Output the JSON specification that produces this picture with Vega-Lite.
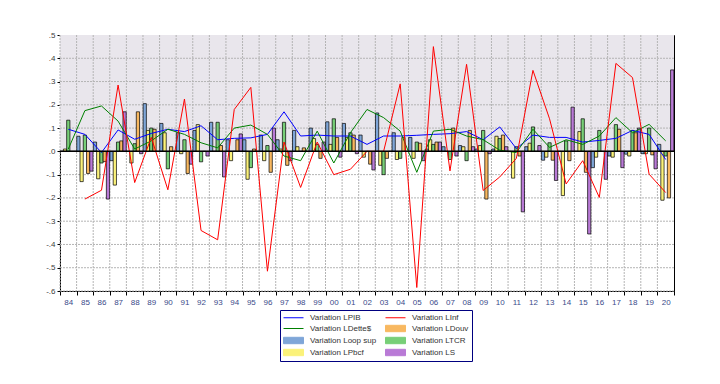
{
"$schema": "https://vega.github.io/schema/vega-lite/v6.json",
"width": 614, "height": 256,
"autosize": {"type": "none"},
"padding": {"left": 60, "top": 35, "right": 46, "bottom": 93},
"background": "white",
"config": {"view": {"stroke": "black", "strokeWidth": 1}, "font": "Liberation Sans"},
"datasets": {
"bars": [
{"yr":"84","Loop":0,"Pbcf":0.01,"TCR":0.134,"Douv":0,"S":0},
{"yr":"85","Loop":0.065,"Pbcf":-0.13,"TCR":0.07,"Douv":-0.095,"S":-0.085},
{"yr":"86","Loop":0.04,"Pbcf":-0.118,"TCR":-0.05,"Douv":-0.044,"S":-0.205},
{"yr":"87","Loop":-0.04,"Pbcf":-0.145,"TCR":0.04,"Douv":0.045,"S":0.17},
{"yr":"88","Loop":0,"Pbcf":-0.05,"TCR":0.033,"Douv":0.17,"S":-0.01},
{"yr":"89","Loop":0.205,"Pbcf":0.09,"TCR":0.1,"Douv":0.095,"S":0},
{"yr":"90","Loop":0.12,"Pbcf":0.08,"TCR":-0.075,"Douv":0.02,"S":0},
{"yr":"91","Loop":0.08,"Pbcf":-0.01,"TCR":0.05,"Douv":-0.095,"S":-0.055},
{"yr":"92","Loop":0.09,"Pbcf":0.115,"TCR":-0.045,"Douv":0,"S":-0.02},
{"yr":"93","Loop":0.125,"Pbcf":0,"TCR":0.125,"Douv":0.025,"S":-0.11},
{"yr":"94","Loop":0.05,"Pbcf":-0.04,"TCR":0,"Douv":0.05,"S":0.075},
{"yr":"95","Loop":0.05,"Pbcf":-0.12,"TCR":-0.07,"Douv":0.01,"S":0},
{"yr":"96","Loop":0.07,"Pbcf":-0.04,"TCR":0.025,"Douv":-0.09,"S":0.1},
{"yr":"97","Loop":0.05,"Pbcf":0.01,"TCR":0.125,"Douv":-0.06,"S":-0.04},
{"yr":"98","Loop":0.09,"Pbcf":0.02,"TCR":0,"Douv":0.015,"S":0},
{"yr":"99","Loop":0.1,"Pbcf":0.055,"TCR":0.03,"Douv":-0.03,"S":0.04},
{"yr":"00","Loop":0.127,"Pbcf":0.03,"TCR":0.14,"Douv":0.06,"S":-0.025},
{"yr":"01","Loop":0.12,"Pbcf":0.06,"TCR":0.08,"Douv":0.07,"S":-0.01},
{"yr":"02","Loop":0.07,"Pbcf":-0.025,"TCR":0,"Douv":-0.055,"S":-0.08},
{"yr":"03","Loop":0.165,"Pbcf":-0.06,"TCR":-0.1,"Douv":-0.03,"S":0},
{"yr":"04","Loop":0.08,"Pbcf":-0.035,"TCR":-0.03,"Douv":0.06,"S":0},
{"yr":"05","Loop":0.06,"Pbcf":-0.03,"TCR":0.04,"Douv":0.035,"S":-0.04},
{"yr":"06","Loop":0.01,"Pbcf":0.05,"TCR":0.03,"Douv":0.04,"S":0.04},
{"yr":"07","Loop":0.02,"Pbcf":0,"TCR":-0.035,"Douv":0.1,"S":-0.02},
{"yr":"08","Loop":0.025,"Pbcf":0.02,"TCR":-0.04,"Douv":0.09,"S":0.02},
{"yr":"09","Loop":0.01,"Pbcf":0.025,"TCR":0.09,"Douv":-0.205,"S":-0.01},
{"yr":"10","Loop":0.01,"Pbcf":0.065,"TCR":0.055,"Douv":0.07,"S":0.02},
{"yr":"11","Loop":0,"Pbcf":-0.115,"TCR":0.02,"Douv":-0.02,"S":-0.26},
{"yr":"12","Loop":0.02,"Pbcf":0.035,"TCR":0.105,"Douv":0,"S":0.025},
{"yr":"13","Loop":-0.038,"Pbcf":-0.025,"TCR":0.037,"Douv":-0.038,"S":-0.125},
{"yr":"14","Loop":0,"Pbcf":-0.19,"TCR":0.045,"Douv":-0.04,"S":0.19},
{"yr":"15","Loop":0,"Pbcf":0.085,"TCR":0.14,"Douv":-0.09,"S":-0.355},
{"yr":"16","Loop":-0.07,"Pbcf":-0.025,"TCR":0.09,"Douv":0,"S":-0.12},
{"yr":"17","Loop":-0.02,"Pbcf":-0.025,"TCR":0.115,"Douv":0.095,"S":-0.07},
{"yr":"18","Loop":-0.012,"Pbcf":-0.02,"TCR":0.09,"Douv":0.08,"S":0.1},
{"yr":"19","Loop":-0.01,"Pbcf":-0.01,"TCR":0.1,"Douv":-0.015,"S":-0.075},
{"yr":"20","Loop":0.03,"Pbcf":-0.21,"TCR":-0.02,"Douv":-0.2,"S":0.35}
],
"lines": [
{"yr":"84","PIB":0.095,"Dette":0.01,"Inf":null},
{"yr":"85","PIB":0.073,"Dette":0.175,"Inf":-0.205},
{"yr":"86","PIB":-0.005,"Dette":0.195,"Inf":-0.167},
{"yr":"87","PIB":0.092,"Dette":0.13,"Inf":0.285},
{"yr":"88","PIB":0.052,"Dette":0.01,"Inf":-0.134},
{"yr":"89","PIB":0.077,"Dette":0.045,"Inf":0.06},
{"yr":"90","PIB":0.095,"Dette":0.095,"Inf":-0.165},
{"yr":"91","PIB":0.085,"Dette":0.073,"Inf":0.225},
{"yr":"92","PIB":0.11,"Dette":0.037,"Inf":-0.34},
{"yr":"93","PIB":0.05,"Dette":0.015,"Inf":-0.38},
{"yr":"94","PIB":0.056,"Dette":0.1,"Inf":0.18},
{"yr":"95","PIB":0.058,"Dette":0.113,"Inf":0.275},
{"yr":"96","PIB":0.073,"Dette":0.073,"Inf":-0.515},
{"yr":"97","PIB":0.17,"Dette":-0.02,"Inf":0.04},
{"yr":"98","PIB":0.066,"Dette":-0.04,"Inf":-0.155},
{"yr":"99","PIB":0.07,"Dette":0.087,"Inf":0.04},
{"yr":"00","PIB":0.066,"Dette":-0.05,"Inf":-0.1},
{"yr":"01","PIB":0.066,"Dette":0.08,"Inf":-0.077},
{"yr":"02","PIB":0.03,"Dette":0.18,"Inf":0},
{"yr":"03","PIB":0.066,"Dette":0.145,"Inf":0},
{"yr":"04","PIB":0.066,"Dette":0.087,"Inf":0.29},
{"yr":"05","PIB":0.069,"Dette":-0.09,"Inf":-0.585},
{"yr":"06","PIB":0.073,"Dette":0.087,"Inf":0.45},
{"yr":"07","PIB":0.076,"Dette":0.095,"Inf":-0.084},
{"yr":"08","PIB":0.085,"Dette":0.066,"Inf":0.374},
{"yr":"09","PIB":0.05,"Dette":0.05,"Inf":-0.168},
{"yr":"10","PIB":0.105,"Dette":0.005,"Inf":-0.11},
{"yr":"11","PIB":0.012,"Dette":-0.005,"Inf":-0.03},
{"yr":"12","PIB":0.07,"Dette":0.095,"Inf":0.348},
{"yr":"13","PIB":0.06,"Dette":0.017,"Inf":0.14},
{"yr":"14","PIB":0.06,"Dette":0.05,"Inf":-0.14},
{"yr":"15","PIB":0.04,"Dette":0.03,"Inf":-0.04},
{"yr":"16","PIB":0.047,"Dette":0.066,"Inf":-0.198},
{"yr":"17","PIB":0.056,"Dette":0.145,"Inf":0.378},
{"yr":"18","PIB":0.09,"Dette":0.08,"Inf":0.317},
{"yr":"19","PIB":0.073,"Dette":0.116,"Inf":-0.098},
{"yr":"20","PIB":-0.035,"Dette":0.045,"Inf":-0.177}
]
},
"layer": [
{
"data": {"values": [{}]},
"mark": {"type": "rect", "color": "#e9e6ec"},
"encoding": {
"y": {"datum": 0.5, "type": "quantitative", "scale": {"domain": [-0.6, 0.5], "nice": false, "zero": false},
"axis": {"title": null, "values": [-0.6,-0.5,-0.4,-0.3,-0.2,-0.1,0,0.1,0.2,0.3,0.4,0.5], "labelOverlap": false, "labelExpr": "(datum.value < -0.001 ? '-' : '') + '.' + round(abs(datum.value) * 10)", "grid": false, "domainColor": "black", "tickColor": "black", "tickSize": 3, "labelFontSize": 8, "labelColor": "#404040", "labelPadding": 2}},
"y2": {"datum": 0}
}
},
{
"data": {"name": "bars"},
"mark": {"type": "rule", "color": "#b4b4b4", "strokeWidth": 1, "strokeDash": [2,1]},
"encoding": {
"x": {"field": "yr", "type": "nominal", "bandPosition": 0,
"axis": {"title": null, "tickBand": "extent", "labelAngle": 0, "labelOverlap": false, "grid": false, "domainColor": "black", "tickColor": "black", "tickSize": 4, "labelFontSize": 8, "labelColor": "#3a4a8a", "labelPadding": 3}}
}
},
{
"data": {"values": [{"g": -0.6}, {"g": -0.5}, {"g": -0.4}, {"g": -0.3}, {"g": -0.2}, {"g": -0.1}, {"g": 0.1}, {"g": 0.2}, {"g": 0.3}, {"g": 0.4}]},
"mark": {"type": "rule", "color": "#b4b4b4", "strokeWidth": 1, "strokeDash": [2,1]},
"encoding": {
"y": {"field": "g", "type": "quantitative",
"axis": {"title": null, "values": [-0.6,-0.5,-0.4,-0.3,-0.2,-0.1,0,0.1,0.2,0.3,0.4,0.5], "labelOverlap": false, "labelExpr": "(datum.value < -0.001 ? '-' : '') + '.' + round(abs(datum.value) * 10)", "grid": false, "domainColor": "black", "tickColor": "black", "tickSize": 3, "labelFontSize": 8, "labelColor": "#404040", "labelPadding": 2}}
}
},
{
"data": {"name": "bars"},
"transform": [{"fold": ["Loop","Pbcf","TCR","Douv","S"], "as": ["series","value"]}],
"mark": {"type": "bar", "stroke": "black", "strokeWidth": 0.7},
"encoding": {
"x": {"field": "yr", "type": "nominal",
"scale": {"domain": ["84","85","86","87","88","89","90","91","92","93","94","95","96","97","98","99","00","01","02","03","04","05","06","07","08","09","10","11","12","13","14","15","16","17","18","19","20"], "paddingInner": 0, "paddingOuter": 0},
"axis": {"title": null, "tickBand": "extent", "labelAngle": 0, "labelOverlap": false, "grid": false, "domainColor": "black", "tickColor": "black", "tickSize": 4, "labelFontSize": 8, "labelColor": "#3a4a8a", "labelPadding": 3}},
"xOffset": {"field": "series", "type": "nominal", "scale": {"domain": ["Loop","Pbcf","TCR","Douv","S"], "paddingInner": 0, "paddingOuter": 0.05}},
"y": {"field": "value", "type": "quantitative",
"axis": {"title": null, "values": [-0.6,-0.5,-0.4,-0.3,-0.2,-0.1,0,0.1,0.2,0.3,0.4,0.5], "labelOverlap": false, "labelExpr": "(datum.value < -0.001 ? '-' : '') + '.' + round(abs(datum.value) * 10)", "grid": false, "domainColor": "black", "tickColor": "black", "tickSize": 3, "labelFontSize": 8, "labelColor": "#404040", "labelPadding": 2}},
"color": {"field": "series", "type": "nominal",
"scale": {"domain": ["PIB","Dette","Loop","Pbcf","Inf","Douv","TCR","S"], "range": ["#0000ff","#008000","#7fa6d8","#fbf27a","#ff0000","#f8b860","#78cf78","#b97ad6"]},
"legend": {"orient": "none", "legendX": 220, "legendY": 275, "columns": 2, "title": null, "direction": "vertical", "padding": 3, "strokeColor": "#000080", "fillColor": "white", "labelFontSize": 8, "labelColor": "#333333", "symbolSize": 64, "columnPadding": 4, "rowPadding": 1, "labelOffset": 12, "symbolOffset": 6,
"labelExpr": "'Variation ' + (datum.value=='PIB' ? 'LPIB' : datum.value=='Dette' ? 'LDette$' : datum.value=='Loop' ? 'Loop  sup' : datum.value=='Pbcf' ? 'LPbcf' : datum.value=='Inf' ? 'LInf' : datum.value=='Douv' ? 'LDouv' : datum.value=='TCR' ? 'LTCR' : 'LS')",
"encode": {"symbols": {"update": {
"shape": {"signal": "indexof(['PIB','Dette','Inf'], datum.value) >= 0 ? 'M-2.5,0H2.5' : 'M-2.5,-0.8H2.5V0.8H-2.5Z'"},
"stroke": {"signal": "datum.value=='PIB' ? '#0000ff' : datum.value=='Dette' ? '#008000' : datum.value=='Inf' ? '#ff0000' : '#000000'"},
"fill": {"signal": "datum.value=='Loop' ? '#7fa6d8' : datum.value=='Pbcf' ? '#fbf27a' : datum.value=='Douv' ? '#f8b860' : datum.value=='TCR' ? '#78cf78' : datum.value=='S' ? '#b97ad6' : 'transparent'"},
"strokeWidth": {"value": 1}, "opacity": {"value": 1}}}}}
}
}
},
{
"data": {"name": "lines"},
"transform": [{"fold": ["PIB","Dette","Inf"], "as": ["series","value"]}],
"mark": {"type": "line", "strokeWidth": 1},
"encoding": {
"x": {"field": "yr", "type": "nominal",
"axis": {"title": null, "tickBand": "extent", "labelAngle": 0, "labelOverlap": false, "grid": false, "domainColor": "black", "tickColor": "black", "tickSize": 4, "labelFontSize": 8, "labelColor": "#3a4a8a", "labelPadding": 3}},
"y": {"field": "value", "type": "quantitative",
"axis": {"title": null, "values": [-0.6,-0.5,-0.4,-0.3,-0.2,-0.1,0,0.1,0.2,0.3,0.4,0.5], "labelOverlap": false, "labelExpr": "(datum.value < -0.001 ? '-' : '') + '.' + round(abs(datum.value) * 10)", "grid": false, "domainColor": "black", "tickColor": "black", "tickSize": 3, "labelFontSize": 8, "labelColor": "#404040", "labelPadding": 2}},
"color": {"field": "series", "type": "nominal",
"legend": {"orient": "none", "legendX": 220, "legendY": 275, "columns": 2, "title": null, "direction": "vertical", "padding": 3, "strokeColor": "#000080", "fillColor": "white", "labelFontSize": 8, "labelColor": "#333333", "symbolSize": 64, "columnPadding": 4, "rowPadding": 1, "labelOffset": 12, "symbolOffset": 6,
"labelExpr": "'Variation ' + (datum.value=='PIB' ? 'LPIB' : datum.value=='Dette' ? 'LDette$' : datum.value=='Loop' ? 'Loop  sup' : datum.value=='Pbcf' ? 'LPbcf' : datum.value=='Inf' ? 'LInf' : datum.value=='Douv' ? 'LDouv' : datum.value=='TCR' ? 'LTCR' : 'LS')",
"encode": {"symbols": {"update": {
"shape": {"signal": "indexof(['PIB','Dette','Inf'], datum.value) >= 0 ? 'M-2.5,0H2.5' : 'M-2.5,-0.8H2.5V0.8H-2.5Z'"},
"stroke": {"signal": "datum.value=='PIB' ? '#0000ff' : datum.value=='Dette' ? '#008000' : datum.value=='Inf' ? '#ff0000' : '#000000'"},
"fill": {"signal": "datum.value=='Loop' ? '#7fa6d8' : datum.value=='Pbcf' ? '#fbf27a' : datum.value=='Douv' ? '#f8b860' : datum.value=='TCR' ? '#78cf78' : datum.value=='S' ? '#b97ad6' : 'transparent'"},
"strokeWidth": {"value": 1}, "opacity": {"value": 1}}}}}
}
}
},
{
"data": {"values": [{}]},
"mark": {"type": "rule", "color": "black", "strokeWidth": 1.5},
"encoding": {"y": {"datum": 0, "type": "quantitative",
"axis": {"title": null, "values": [-0.6,-0.5,-0.4,-0.3,-0.2,-0.1,0,0.1,0.2,0.3,0.4,0.5], "labelOverlap": false, "labelExpr": "(datum.value < -0.001 ? '-' : '') + '.' + round(abs(datum.value) * 10)", "grid": false, "domainColor": "black", "tickColor": "black", "tickSize": 3, "labelFontSize": 8, "labelColor": "#404040", "labelPadding": 2}}}
}
]
}
